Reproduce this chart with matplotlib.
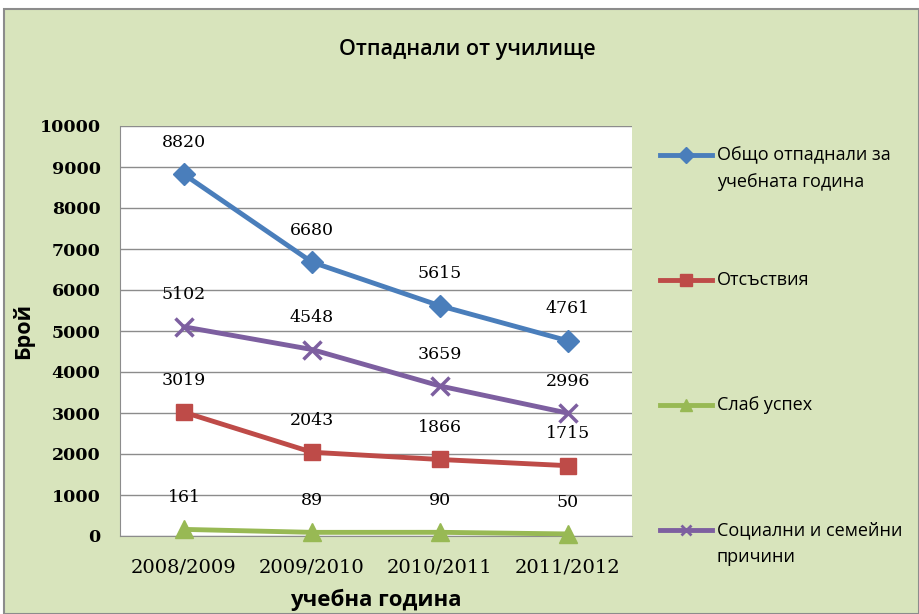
import matplotlib
matplotlib.use("Agg")
import matplotlib.pyplot as plt
from matplotlib.patches import Rectangle

categories = ["2008/2009", "2009/2010", "2010/2011", "2011/2012"]
series_names = ["Общо отпаднали за\nучебната година", "Отсъствия", "Слаб успех",
                "Социални и семейни\nпричини"]
total = [8820, 6680, 5615, 4761]
absences = [3019, 2043, 1866, 1715]
weak = [161, 89, 90, 50]
social = [5102, 4548, 3659, 2996]
yticks = list(range(0, 10001, 1000))

plt.rcParams['font.family'] = ['Open Sans', 'DejaVu Sans']
NUM = ['DejaVu Serif', 'DejaVu Sans']

W, H = 919, 614
fig = plt.figure(figsize=(W / 100, H / 100), dpi=100)
fig.patch.set_facecolor("white")
fig.patches.append(Rectangle((4 / W, 0), 1 - 4 / W, 1 - 9 / H, transform=fig.transFigure,
                             facecolor="#d8e4bc", edgecolor="#8c8c8c", linewidth=1.5, zorder=-1))

ax = fig.add_axes([120 / W, 1 - 536 / H, (632 - 120) / W, (536 - 126) / H])
ax.set_facecolor("white")

x = list(range(len(categories)))
styles = [
    (total, "#4a7ebb", "D", 11, series_names[0]),
    (absences, "#be4b48", "s", 12, series_names[1]),
    (weak, "#98b954", "^", 13, series_names[2]),
    (social, "#7d5fa0", "x", 13, series_names[3]),
]
handles = []
for vals, col, mk, ms, name in styles:
    kw = dict(markeredgewidth=2.5) if mk == "x" else dict(markeredgecolor=col)
    h, = ax.plot(x, vals, color=col, linewidth=3.5, marker=mk, markersize=ms,
                 markerfacecolor=col, label=name, clip_on=False, zorder=3, **kw)
    handles.append(h)
    for xi, v in zip(x, vals):
        ax.annotate(str(v), (xi, v), xytext=(0, 23), textcoords="offset points",
                    ha="center", va="center", fontsize=12.5, color="black", family=NUM)

ax.set_xlim(-0.5, 3.5)
ax.set_ylim(0, 10000)
ax.set_yticks(yticks)
ax.set_yticklabels([str(t) for t in yticks], fontsize=12.5, family=NUM, fontweight="bold")
ax.set_xticks(x)
ax.set_xticklabels(categories, fontsize=14, family=NUM)
ax.tick_params(axis="y", length=0, pad=14)
ax.tick_params(axis="x", length=0, pad=16)
ax.grid(axis="y", color="#8c8c8c", linewidth=1)
ax.set_axisbelow(True)
for s in ["top", "right"]:
    ax.spines[s].set_visible(False)
ax.spines["left"].set_color("#8c8c8c")
ax.spines["bottom"].set_color("#8c8c8c")

ax.set_xlabel("учебна година", fontsize=16, fontweight="bold", labelpad=9)
ax.set_ylabel("Брой", fontsize=15.5, fontweight="bold", labelpad=4)
fig.text((335 + 600) / 2 / W, 1 - 50 / H, "Отпаднали от училище", ha="center", va="center",
         fontsize=15.5, fontweight="semibold")

leg_y = [155, 280, 405, 530]
for h, ly in zip(handles, leg_y):
    yy = 1 - ly / H
    fig.add_artist(plt.Line2D([660 / W, 712 / W], [yy, yy], color=h.get_color(), linewidth=3.5,
                              transform=fig.transFigure))
    fig.add_artist(plt.Line2D([686 / W], [yy], color=h.get_color(), marker=h.get_marker(),
                              markersize=8 if h.get_marker() != "x" else 7,
                              markeredgewidth=2 if h.get_marker() == "x" else 1,
                              transform=fig.transFigure))
    for i, line in enumerate(h.get_label().split("\n")):
        fig.text(717 / W, 1 - (ly + 27 * i) / H, line, ha="left", va="center", fontsize=13)

fig.savefig("out.png", dpi=100, facecolor=fig.get_facecolor())
